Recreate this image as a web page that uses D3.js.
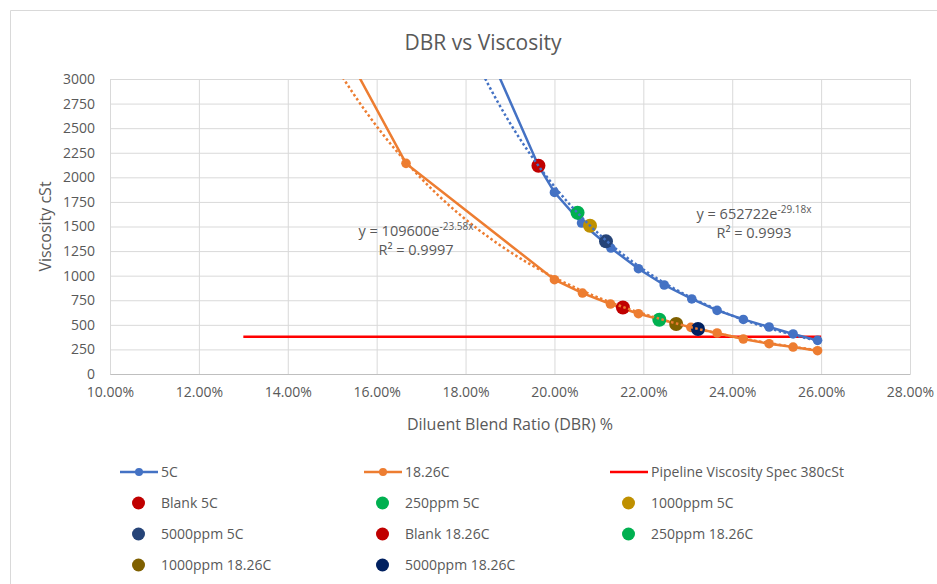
<!DOCTYPE html>
<html>
<head>
<meta charset="utf-8">
<script src="https://cdn.jsdelivr.net/npm/d3@7"></script>
<style>
  body { margin: 0; background: #fff; }
  text { font-family: "Open Sans", "Liberation Sans", sans-serif; fill: #595959; }
</style>
</head>
<body>
<div id="chart"></div>
<script>
// Series data (DBR as fraction, viscosity in cSt)
const dbr5C = [0.180, 0.1964, 0.2000, 0.2061, 0.2127, 0.2189, 0.2247, 0.2309, 0.2366, 0.2425, 0.2483, 0.2537, 0.2592];
const visc5C = [3800, 2118, 1847, 1535, 1281, 1071, 905, 763, 647, 555, 478, 407, 342];

const dbr1826C = [0.150, 0.1666, 0.2000, 0.2063, 0.2126, 0.2189, 0.2307, 0.2366, 0.2425, 0.2483, 0.2537, 0.2592];
const visc1826C = [3525, 2142, 959, 823, 712, 613, 474, 417, 356, 308, 274, 237];

const specDbr = [0.13, 0.26];
const specVisc = [380, 380];

// Single-point additive series
const pointNames = ["Blank 5C", "250ppm 5C", "1000ppm 5C", "5000ppm 5C",
                    "Blank 18.26C", "250ppm 18.26C", "1000ppm 18.26C", "5000ppm 18.26C"];
const pointDbr = [0.1964, 0.2052, 0.2080, 0.2116, 0.2154, 0.2236, 0.2274, 0.2323];
const pointVisc = [2118, 1640, 1508, 1349, 677, 552, 508, 457];
const pointColors = ["#C00000", "#00B050", "#BF9000", "#264478",
                     "#C00000", "#00B050", "#7F6000", "#002060"];

// Exponential trendlines shown on the chart: y = a * e^(b x)
const trendA = [652722, 109600];
const trendB = [-29.18, -23.58];
const trendLabel = ["652722", "109600"];
const trendExp = ["-29.18x", "-23.58x"];
const trendR2 = ["0.9993", "0.9997"];

const xTicks = [0.10, 0.12, 0.14, 0.16, 0.18, 0.20, 0.22, 0.24, 0.26, 0.28];
const yTicks = [0, 250, 500, 750, 1000, 1250, 1500, 1750, 2000, 2250, 2500, 2750, 3000];

const W = 937, H = 584;
const margin = { top: 79, left: 110, right: 27, bottom: 210 };
const pw = W - margin.left - margin.right,
      ph = H - margin.top - margin.bottom;

const svg = d3.select("#chart").append("svg")
    .attr("width", W)
    .attr("height", H);

// chart area border (left and top visible)
svg.append("path")
    .attr("d", `M10.5,${H} V10.5 H${W}`)
    .attr("fill", "none")
    .attr("stroke", "#d9d9d9");

const x = d3.scaleLinear().domain([0.10, 0.28]).range([margin.left, margin.left + pw]);
const y = d3.scaleLinear().domain([0, 3000]).range([margin.top + ph, margin.top]);

// title
svg.append("text")
    .attr("x", 483).attr("y", 50)
    .attr("text-anchor", "middle")
    .style("font-size", "21px")
    .text("DBR vs Viscosity");

// gridlines
svg.append("g")
    .attr("transform", `translate(0,${margin.top + ph})`)
    .call(d3.axisBottom(x).tickValues(xTicks).tickSize(-ph).tickFormat(""))
    .call(g => g.select(".domain").remove())
    .call(g => g.selectAll("line").attr("stroke", "#d9d9d9"));

svg.append("g")
    .attr("transform", `translate(${margin.left},0)`)
    .call(d3.axisLeft(y).tickValues(yTicks).tickSize(-pw).tickFormat(""))
    .call(g => g.select(".domain").remove())
    .call(g => g.selectAll("line").attr("stroke", "#d9d9d9"));

// axes with labels
const xAxis = svg.append("g")
    .attr("transform", `translate(0,${margin.top + ph})`)
    .call(d3.axisBottom(x).tickValues(xTicks).tickSize(0).tickPadding(13)
        .tickFormat(d => (d * 100).toFixed(2) + "%"));
xAxis.select(".domain").attr("stroke", "#bfbfbf");
xAxis.selectAll("text").style("font-size", "14px").attr("fill", "#595959");

const yAxis = svg.append("g")
    .attr("transform", `translate(${margin.left},0)`)
    .call(d3.axisLeft(y).tickValues(yTicks).tickSize(0).tickPadding(15)
        .tickFormat(d3.format("d")));
yAxis.select(".domain").remove();
yAxis.selectAll("text").style("font-size", "14px").attr("fill", "#595959");

// axis titles
svg.append("text")
    .attr("x", margin.left + pw / 2).attr("y", 430)
    .attr("text-anchor", "middle")
    .style("font-size", "16px")
    .text("Diluent Blend Ratio (DBR) %");

svg.append("text")
    .attr("transform", `translate(51,${margin.top + ph / 2}) rotate(-90)`)
    .attr("text-anchor", "middle")
    .style("font-size", "16px")
    .text("Viscosity cSt");

// clip to plot area
svg.append("clipPath").attr("id", "plot-clip")
  .append("rect")
    .attr("x", margin.left).attr("y", margin.top)
    .attr("width", pw).attr("height", ph);

const plot = svg.append("g").attr("clip-path", "url(#plot-clip)");

const line = d3.line().x(d => x(d[0])).y(d => y(d[1]));

const series = [
    { name: "5C", color: "#4472C4", xs: dbr5C, ys: visc5C },
    { name: "18.26C", color: "#ED7D31", xs: dbr1826C, ys: visc1826C }
];

// pipeline spec line
plot.append("path")
    .datum(d3.zip(specDbr, specVisc))
    .attr("d", line)
    .attr("fill", "none")
    .attr("stroke", "#FF0000")
    .attr("stroke-width", 2.5);

series.forEach(s => {
    const pts = d3.zip(s.xs, s.ys);
    plot.append("path")
        .datum(pts)
        .attr("d", line)
        .attr("fill", "none")
        .attr("stroke", s.color)
        .attr("stroke-width", 2.5);
    plot.selectAll(null)
        .data(pts)
        .enter().append("circle")
        .attr("cx", d => x(d[0]))
        .attr("cy", d => y(d[1]))
        .attr("r", 4.8)
        .attr("fill", s.color);
});

// additive points
plot.selectAll("circle.pt")
    .data(d3.range(pointNames.length))
    .enter().append("circle")
    .attr("class", "pt")
    .attr("cx", i => x(pointDbr[i]))
    .attr("cy", i => y(pointVisc[i]))
    .attr("r", 7)
    .attr("fill", i => pointColors[i]);

// trendlines (drawn over the markers, like Excel)
series.forEach((s, k) => {
    const x0 = d3.min(s.xs), x1 = d3.max(s.xs);
    const pts = d3.range(x0, x1, 0.0005).concat([x1])
        .map(v => [v, trendA[k] * Math.exp(trendB[k] * v)]);
    plot.append("path")
        .datum(pts)
        .attr("d", line)
        .attr("fill", "none")
        .attr("stroke", s.color)
        .attr("stroke-width", 2.5)
        .attr("stroke-dasharray", "2.5,2.5");
});

// trendline equations
const eqPos = [[754, 219], [416, 236]];
eqPos.forEach((p, k) => {
    const t = svg.append("text")
        .attr("x", p[0]).attr("y", p[1])
        .attr("text-anchor", "middle")
        .style("font-size", "14.5px");
    t.append("tspan").text("y = " + trendLabel[k] + "e");
    t.append("tspan").attr("dy", -6).style("font-size", "10px").text(trendExp[k]);
    svg.append("text")
        .attr("x", p[0]).attr("y", p[1] + 19)
        .attr("text-anchor", "middle")
        .style("font-size", "14.5px")
        .text("R² = " + trendR2[k]);
});

// legend
const legendItems = [
    { name: "5C", color: "#4472C4", type: "line" },
    { name: "18.26C", color: "#ED7D31", type: "line" },
    { name: "Pipeline Viscosity Spec 380cSt", color: "#FF0000", type: "spec" }
].concat(pointNames.map((n, i) => ({ name: n, color: pointColors[i], type: "dot" })));

const colX = [120, 364, 610];
const rowY = [472, 503, 534, 565];

const legend = svg.append("g");
legendItems.forEach((d, i) => {
    const lx = colX[i % 3], ly = rowY[Math.floor(i / 3)];
    const g = legend.append("g").attr("transform", `translate(${lx},${ly})`);
    if (d.type === "line" || d.type === "spec") {
        g.append("line")
            .attr("x1", 0).attr("x2", 38)
            .attr("stroke", d.color).attr("stroke-width", 2.5);
        if (d.type === "line") {
            g.append("circle").attr("cx", 19).attr("r", 4).attr("fill", d.color);
        }
    } else {
        g.append("circle").attr("cx", 18.5).attr("r", 6.5).attr("fill", d.color);
    }
    g.append("text")
        .attr("x", 41).attr("dy", "0.35em")
        .style("font-size", "14px")
        .text(d.name);
});
</script>
</body>
</html>
